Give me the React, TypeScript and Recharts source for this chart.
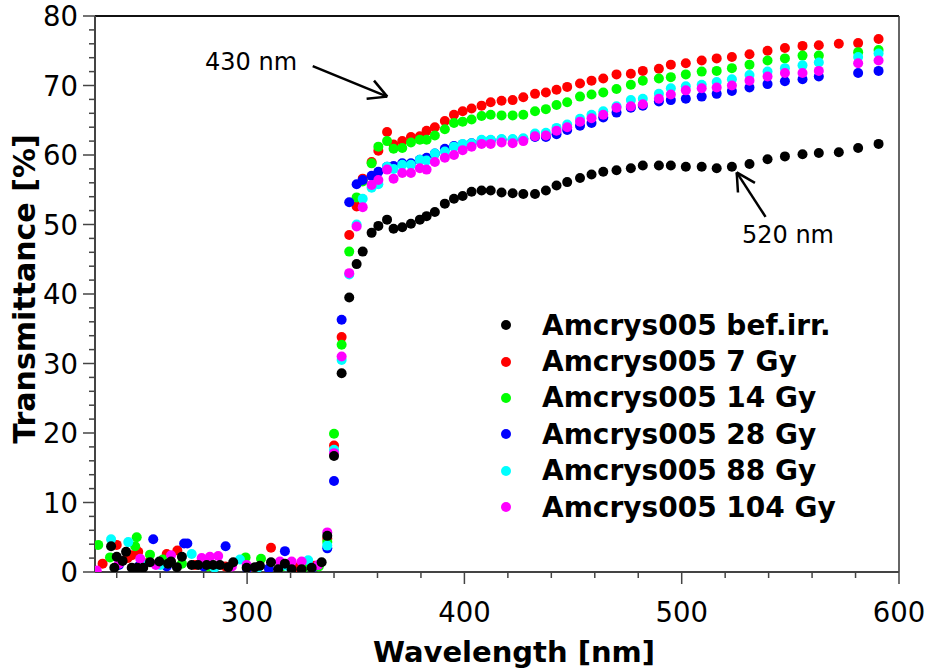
import React from 'react';
import { ScatterChart, Scatter, XAxis, YAxis, ReferenceLine, ReferenceDot, Label } from 'recharts';

const FONT = '"DejaVu Sans", Verdana, sans-serif';

// common wavelength grid (nm) for the absorption edge and plateau
const wavelengths = [
  336.9, 340.0, 343.5, 347.0, 350.4, 353.2, 357.3, 360.4, 364.4, 367.4, 371.4, 375.4,
  379.5, 382.6, 386.4, 391.0, 395.2, 399.2, 403.3, 407.9, 412.1, 417.1, 422.2, 427.1,
  432.5, 437.5, 442.4, 447.3, 453.2, 458.5, 463.9, 470.0, 476.6, 482.1, 489.5, 495.0,
  501.9, 509.2, 516.1, 523.1, 531.2, 539.5, 547.5, 555.6, 563.1, 572.3, 581.2, 590.6,
];

const befIrr = [
  5.2, 16.7, 28.6, 39.5, 44.3, 46.1, 48.8, 49.8, 50.7, 49.4, 49.6, 50.1,
  50.7, 51.2, 51.8, 53.0, 53.7, 54.1, 54.7, 54.9, 54.9, 54.6, 54.5, 54.4,
  54.4, 54.9, 55.6, 56.1, 56.7, 57.2, 57.6, 57.8, 58.1, 58.5, 58.5, 58.5,
  58.3, 58.3, 58.1, 58.3, 58.7, 59.4, 59.8, 60.1, 60.3, 60.4, 61.0, 61.6,
];
const gy7 = [
  4.8, 18.2, 33.8, 48.5, 52.6, 56.6, 59.0, 60.6, 63.3, 61.5, 62.0, 62.6,
  62.7, 63.5, 64.0, 64.9, 65.8, 66.3, 66.7, 67.1, 67.6, 67.8, 67.9, 68.3,
  68.8, 69.0, 69.4, 69.8, 70.3, 70.7, 71.0, 71.6, 71.7, 72.1, 72.4, 73.0,
  73.2, 73.6, 73.9, 74.1, 74.5, 75.0, 75.4, 75.7, 75.8, 76.0, 76.1, 76.7,
];
const gy14 = [
  4.3, 19.9, 32.7, 46.1, 53.9, 56.2, 58.8, 61.2, 62.0, 60.9, 61.0, 61.8,
  62.2, 62.2, 62.8, 63.7, 64.6, 64.8, 65.1, 65.6, 65.8, 65.7, 65.7, 65.8,
  66.3, 66.6, 67.2, 67.6, 68.4, 68.7, 69.0, 69.5, 70.1, 70.7, 71.0, 71.2,
  71.6, 72.0, 72.1, 72.5, 73.0, 73.6, 73.9, 74.3, 74.3, null, 74.8, 75.1,
];
const gy28 = [
  3.4, 13.1, 36.3, 53.2, 55.8, 56.4, 57.0, 57.6, 58.3, 58.4, 58.8, 58.8,
  59.3, 59.6, 60.2, 60.9, 61.3, 61.5, 61.7, 62.0, 62.1, 62.2, 62.2, 62.3,
  62.6, 62.6, 63.0, 63.6, 64.2, 64.6, 65.4, 66.1, 66.8, 67.1, 67.7, 67.9,
  68.1, 68.4, 68.8, 69.2, 69.7, 70.2, 70.6, 70.9, 71.3, null, 71.8, 72.1,
];
const gy88 = [
  3.8, 17.6, 30.5, 42.8, 50.0, 53.7, 55.3, 55.8, 58.3, 58.0, 58.6, 58.6,
  59.3, 59.2, 60.2, 60.5, 61.2, 61.6, 61.7, 62.2, 62.2, 62.3, 62.3, 62.4,
  63.1, 63.2, 63.9, 64.4, 65.2, 65.8, 66.3, 67.0, 67.9, 68.1, 68.8, 69.6,
  69.9, 70.1, 70.5, 70.9, 71.5, 72.0, 72.5, 72.9, 73.3, null, 74.1, 74.6,
];
const gy104 = [
  5.7, 17.1, 31.0, 43.0, 49.7, 52.5, 55.7, 56.4, 57.9, 56.6, 57.4, 57.4,
  58.1, 57.9, 59.0, 59.6, 60.0, 60.7, 61.2, 61.6, 61.6, 61.8, 61.7, 62.0,
  62.7, 62.8, 63.5, 64.0, 64.8, 65.3, 65.8, 66.8, 67.0, 67.3, 68.1, 68.7,
  69.3, 69.6, 69.7, 70.0, 70.7, 71.3, 71.8, 71.8, 72.1, null, 73.2, 73.6,
];

// noisy points below the edge, each sample has its own wavelengths
const befIrrLowWl = [237.4, 238.9, 240.0, 242.7, 244.3, 246.9, 249.5, 252.2, 255.3, 259.6, 263.6, 265.0, 267.7, 270.0, 274.5, 277.5, 281.4, 284.4, 287.5, 291.3, 293.6, 299.8, 303.6, 305.9, 311.0, 314.3, 317.4, 320.5, 325.1, 329.7, 334.3];
const befIrrLowT = [3.7, 0.6, 2.2, 1.6, 2.9, 0.6, 0.6, 0.6, 1.4, 1.5, 1.2, 1.5, 0.7, 2.2, 1.0, 1.0, 1.0, 1.0, 1.0, 0.7, 1.4, 0.6, 0.7, 0.9, 1.4, 0.4, 1.2, 0.4, 0.4, 0.6, 1.4];
const gy7LowWl = [233.5, 240.0, 245.0, 247.0, 249.9, 255.0, 263.0, 267.9, 276.0, 290.0, 300.5, 311.0, 322.0, 331.0];
const gy7LowT = [1.2, 3.9, 2.0, 2.4, 2.9, 1.5, 2.6, 3.1, 1.0, 0.8, 0.6, 3.5, 0.7, 0.9];
const gy14LowWl = [231.5, 236.9, 248.5, 249.2, 255.3, 261.2, 270.0, 282.0, 299.3, 306.4, 316.0, 326.0, 333.0];
const gy14LowT = [3.9, 2.1, 3.7, 5.0, 2.5, 1.8, 1.2, 0.8, 2.1, 1.9, 0.8, 0.6, 0.8];
const gy28LowWl = [241.0, 250.0, 256.8, 263.0, 271.0, 272.5, 280.0, 290.1, 300.0, 310.0, 317.4, 330.0];
const gy28LowT = [1.0, 0.8, 4.7, 0.8, 4.1, 4.1, 0.8, 3.7, 0.5, 0.5, 3.0, 0.6];
const gy88LowWl = [237.4, 245.3, 252.0, 260.0, 274.5, 285.0, 296.7, 305.0, 318.0, 328.1];
const gy88LowT = [4.7, 4.3, 1.2, 1.0, 2.6, 0.6, 1.8, 0.6, 0.9, 1.7];
const gy104LowWl = [230.8, 241.0, 250.8, 258.0, 265.0, 279.1, 282.9, 286.7, 293.0, 299.8, 315.1, 320.5, 325.1, 332.7];
const gy104LowT = [0.2, 1.2, 1.9, 1.0, 2.4, 2.0, 2.2, 2.3, 0.8, 1.0, 1.5, 1.5, 1.5, 1.0];

const xTicks = [240, 260, 280, 300, 320, 340, 360, 380, 400, 420, 440, 460, 480, 500, 520, 540, 560, 580, 600];
const yTicks = [0, 2, 4, 6, 8, 10, 12, 14, 16, 18, 20, 22, 24, 26, 28, 30, 32, 34, 36, 38, 40, 42, 44, 46, 48, 50, 52, 54, 56, 58, 60, 62, 64, 66, 68, 70, 72, 74, 76, 78, 80];

const toPoints = (wl: number[], t: (number | null)[]) =>
  wl.map((x, i) => ({ x, y: t[i] })).filter((p) => p.y !== null);

// legend order
const series = [
  { name: 'Amcrys005 bef.irr.', color: '#000000', data: [...toPoints(befIrrLowWl, befIrrLowT), ...toPoints(wavelengths, befIrr)] },
  { name: 'Amcrys005 7 Gy', color: '#ff0000', data: [...toPoints(gy7LowWl, gy7LowT), ...toPoints(wavelengths, gy7)] },
  { name: 'Amcrys005 14 Gy', color: '#00ff00', data: [...toPoints(gy14LowWl, gy14LowT), ...toPoints(wavelengths, gy14)] },
  { name: 'Amcrys005 28 Gy', color: '#0000ff', data: [...toPoints(gy28LowWl, gy28LowT), ...toPoints(wavelengths, gy28)] },
  { name: 'Amcrys005 88 Gy', color: '#00ffff', data: [...toPoints(gy88LowWl, gy88LowT), ...toPoints(wavelengths, gy88)] },
  { name: 'Amcrys005 104 Gy', color: '#ff00ff', data: [...toPoints(gy104LowWl, gy104LowT), ...toPoints(wavelengths, gy104)] },
];
// black is drawn last, on top of the others
const drawOrder = [1, 2, 3, 4, 5, 0];

// arrows in data units: [x1, y1, x2, y2]
const arrowLines = [
  [330.2, 72.8, 364.5, 68.4],
  [355.0, 68.1, 364.5, 68.4],
  [358.4, 70.7, 364.5, 68.4],
  [538.6, 51.1, 525.3, 57.5],
  [525.9, 54.6, 525.3, 57.5],
  [533.7, 56.0, 525.3, 57.5],
];
const notes = [
  { x: 301.8, y: 73.4, text: '430 nm' },
  { x: 548.9, y: 48.5, text: '520 nm' },
];

const AXIS = '#444';

const XTick = (props: any) => {
  const { x, y, payload } = props;
  const major = payload.value % 100 === 0;
  return (
    <g>
      <line x1={x} y1={y} x2={x} y2={y + (major ? 12 : 6)} stroke={AXIS} strokeWidth={1.5} />
      {major && (
        <text x={x} y={y + 50} textAnchor="middle" fontSize={27.5} fontFamily={FONT} fill="#000">
          {payload.value}
        </text>
      )}
    </g>
  );
};

const YTick = (props: any) => {
  const { x, y, payload } = props;
  const major = payload.value % 10 === 0;
  return (
    <g>
      <line x1={x - (major ? 12 : 6)} y1={y} x2={x} y2={y} stroke={AXIS} strokeWidth={1.5} />
      {major && (
        <text x={x - 17} y={y + 10} textAnchor="end" fontSize={27.5} fontFamily={FONT} fill="#000">
          {payload.value}
        </text>
      )}
    </g>
  );
};

const LegendBox = () => (
  <div
    style={{
      position: 'absolute',
      left: 501,
      top: 307,
      fontFamily: FONT,
      fontWeight: 700,
      fontSize: 28,
      color: '#000',
    }}
  >
    {series.map((s) => (
      <div key={s.name} style={{ display: 'flex', alignItems: 'center', height: 36.4, whiteSpace: 'nowrap' }}>
        <span style={{ width: 10, height: 10, borderRadius: '50%', background: s.color, marginRight: 31, flex: 'none' }} />
        <span>{s.name}</span>
      </div>
    ))}
  </div>
);

export default function App() {
  return (
    <div style={{ position: 'absolute', left: 0, top: 0, width: 926, height: 670, background: '#fff' }}>
      <ScatterChart width={926} height={670} margin={{ top: 16, right: 27, bottom: 38, left: 0 }}>
        <XAxis
          type="number"
          dataKey="x"
          domain={[230, 600]}
          ticks={xTicks}
          interval={0}
          allowDataOverflow
          height={60}
          tickSize={0}
          tickMargin={0}
          tickLine={false}
          axisLine={{ stroke: AXIS, strokeWidth: 2 }}
          tick={(p: any) => <XTick {...p} />}
        >
          <Label
            content={() => (
              <text x={514} y={662} textAnchor="middle" fontSize={29} fontWeight={700} fontFamily={FONT} fill="#000">
                Wavelength [nm]
              </text>
            )}
          />
        </XAxis>
        <YAxis
          type="number"
          dataKey="y"
          domain={[0, 80]}
          ticks={yTicks}
          interval={0}
          allowDataOverflow
          width={95}
          tickSize={0}
          tickMargin={0}
          tickLine={false}
          axisLine={{ stroke: AXIS, strokeWidth: 2 }}
          tick={(p: any) => <YTick {...p} />}
        >
          <Label
            content={() => (
              <text
                x={24}
                y={289}
                transform="rotate(-90 24 289)"
                textAnchor="middle"
                dominantBaseline="central"
                fontSize={30}
                fontWeight={700}
                fontFamily={FONT}
                fill="#000"
              >
                Transmittance [%]
              </text>
            )}
          />
        </YAxis>
        <ReferenceLine y={80} stroke="#111" strokeWidth={2} />
        <ReferenceLine x={600} stroke="#333" strokeWidth={1.5} />
        {drawOrder.map((i) => {
          const s = series[i];
          return (
            <Scatter
              key={s.name}
              name={s.name}
              data={s.data}
              fill={s.color}
              isAnimationActive={false}
              shape={(p: any) => <circle cx={p.cx} cy={p.cy} r={5} fill={s.color} />}
            />
          );
        })}
        {arrowLines.map((a, i) => (
          <ReferenceLine
            key={'arr' + i}
            segment={[{ x: a[0], y: a[1] }, { x: a[2], y: a[3] }]}
            stroke="#000"
            strokeWidth={2.5}
          />
        ))}
        {notes.map((n) => (
          <ReferenceDot
            key={n.text}
            x={n.x}
            y={n.y}
            r={0}
            fill="none"
            stroke="none"
            label={{ value: n.text, position: 'center', fontSize: 24, fontFamily: FONT, fill: '#000' }}
          />
        ))}
      </ScatterChart>
      <LegendBox />
    </div>
  );
}
